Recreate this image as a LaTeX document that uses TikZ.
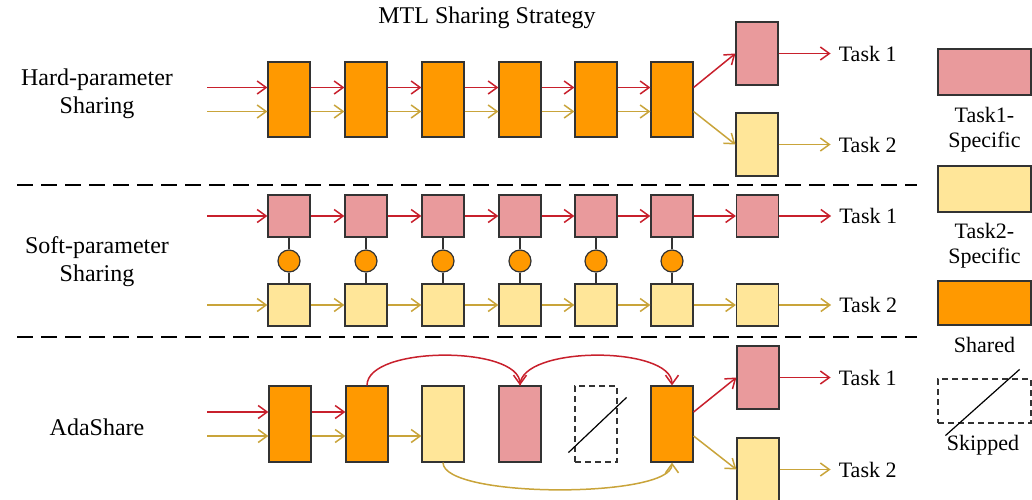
\documentclass[tikz,border=0pt]{standalone}
\usepackage{fontspec}
\setmainfont{Liberation Serif}
\usepackage{tikz}
\usetikzlibrary{positioning,arrows.meta}
\definecolor{sharedorange}{HTML}{FF9900}
\definecolor{taskpink}{HTML}{E99A9C}
\definecolor{taskyellow}{HTML}{FFE699}
\definecolor{flowred}{HTML}{C8202C}
\definecolor{flowgold}{HTML}{C9A43A}
\definecolor{edgegray}{HTML}{333333}
\tikzset{
  block/.style={draw=edgegray, line width=1.2pt, inner sep=0pt, minimum width=42pt},
  shared/.style={block, fill=sharedorange, minimum height=76pt},
  pinkbox/.style={block, fill=taskpink},
  yellowbox/.style={block, fill=taskyellow},
  skipdash/.style={dash pattern=on 6pt off 4pt},
  skipbox/.style={block, skipdash, minimum height=76pt},
  knot/.style={circle, draw=edgegray, line width=1.2pt, fill=sharedorange, inner sep=0pt, minimum size=22pt},
  link/.style={draw=edgegray, line width=1.2pt},
  redflow/.style={draw=flowred, line width=1.5pt, -{Straight Barb[length=9pt,width=13pt]}},
  goldflow/.style={draw=flowgold, line width=1.5pt, -{Straight Barb[length=9pt,width=13pt]}},
  txt/.style={font=\fontsize{22}{25}\selectfont, align=center},
  rowname/.style={font=\fontsize{24}{28}\selectfont, align=center},
  tasktxt/.style={txt, inner sep=8pt},
  separator/.style={line width=2.5pt, dash pattern=on 16pt off 8pt}
}
\begin{document}
\begin{tikzpicture}[x=1pt,y=-1pt]
\useasboundingbox (0,0) rectangle (1032,499);
\node[font=\fontsize{24}{27}\selectfont] (title) at (487,18) {MTL Sharing Strategy};
% Row names
\node[rowname] (hardname) at (97,94) {Hard-parameter\\Sharing};
\node[rowname] (softname) at (97,262) {Soft-parameter\\Sharing};
\node[rowname] (adaname) at (97,427) {AdaShare};
% Separators
\draw[separator] (17,185) -- (917,185);
\draw[separator] (17,337) -- (917,337);

% Hard-parameter sharing
\foreach \i/\x in {1/289,2/366,3/443,4/520,5/596,6/672}
  \node[shared, minimum height=75pt] (h\i) at (\x,99.5) {};
\node[pinkbox, minimum height=63pt] (hp) at (757,53.5) {};
\node[yellowbox, minimum height=63pt] (hy) at (757,144.5) {};
\node[tasktxt, anchor=west, right=52pt of hp] (ht1) {Task 1};
\node[tasktxt, anchor=west, right=52pt of hy] (ht2) {Task 2};
\coordinate (hinr) at (207,87.5);
\coordinate (hing) at (207,111.5);
\draw[redflow] (hinr) -- ([yshift=12pt]h1.west);
\draw[goldflow] (hing) -- ([yshift=-12pt]h1.west);
\foreach \i/\j in {1/2,2/3,3/4,4/5,5/6} {
  \draw[redflow] ([yshift=12pt]h\i.east) -- ([yshift=12pt]h\j.west);
  \draw[goldflow] ([yshift=-12pt]h\i.east) -- ([yshift=-12pt]h\j.west);
}
\draw[redflow] ([yshift=12pt]h6.east) -- (hp.west);
\draw[goldflow] ([yshift=-12pt]h6.east) -- (hy.west);
\draw[redflow] (hp) -- (ht1);
\draw[goldflow] (hy) -- (ht2);

% Soft-parameter sharing
\foreach \i/\x in {1/289,2/366,3/443,4/520,5/596,6/672} {
  \node[pinkbox, minimum height=42pt] (s\i) at (\x,216) {};
  \node[yellowbox, minimum height=42pt] (g\i) at (\x,305) {};
  \node[knot] (k\i) at (\x,261) {};
  \draw[link] (s\i) -- (k\i) -- (g\i);
}
\node[pinkbox, minimum height=42pt] (s7) at (757.5,216) {};
\node[yellowbox, minimum height=42pt] (g7) at (757.5,305) {};
\node[tasktxt, anchor=west, right=52pt of s7] (st1) {Task 1};
\node[tasktxt, anchor=west, right=52pt of g7] (st2) {Task 2};
\coordinate (sinr) at (207,216);
\coordinate (sing) at (207,305);
\draw[redflow] (sinr) -- (s1);
\draw[goldflow] (sing) -- (g1);
\foreach \i/\j in {1/2,2/3,3/4,4/5,5/6,6/7} {
  \draw[redflow] (s\i) -- (s\j);
  \draw[goldflow] (g\i) -- (g\j);
}
\draw[redflow] (s7) -- (st1);
\draw[goldflow] (g7) -- (st2);

% AdaShare
\node[shared] (a1) at (290,424) {};
\node[shared] (a2) at (367,424) {};
\node[yellowbox, minimum height=76pt] (a3) at (443,424) {};
\node[pinkbox, minimum height=76pt] (a4) at (520,424) {};
\node[skipbox] (a5) at (596,424) {};
\node[shared] (a6) at (672,424) {};
\draw[line width=1.2pt] ([shift={(-6,-10)}]a5.south west) -- ([shift={(9,12)}]a5.north east);
\node[pinkbox, minimum height=63pt] (ap) at (758,377.5) {};
\node[yellowbox, minimum height=63pt] (ay) at (758,469.5) {};
\node[tasktxt, anchor=west, right=51pt of ap] (at1) {Task 1};
\node[tasktxt, anchor=west, right=51pt of ay] (at2) {Task 2};
\coordinate (ainr) at (207,412);
\coordinate (aing) at (207,436);
\draw[redflow] (ainr) -- ([yshift=12pt]a1.west);
\draw[goldflow] (aing) -- ([yshift=-12pt]a1.west);
\draw[redflow] ([yshift=12pt]a1.east) -- ([yshift=12pt]a2.west);
\draw[goldflow] ([yshift=-12pt]a1.east) -- ([yshift=-12pt]a2.west);
\draw[goldflow] ([yshift=-12pt]a2.east) -- ([yshift=-12pt]a3.west);
\draw[redflow] (a2.north) .. controls +(0,-40) and +(0,-40) .. (a4.north);
\draw[redflow] (a4.north) .. controls +(0,-40) and +(0,-40) .. (a6.north);
\draw[goldflow] (a3.south) .. controls +(0,36) and +(0,36) .. (a6.south);
\draw[redflow] ([yshift=12pt]a6.east) -- (ap.west);
\draw[goldflow] ([yshift=-12pt]a6.east) -- (ay.west);
\draw[redflow] (ap) -- (at1);
\draw[goldflow] (ay) -- (at2);

% Legend
\node[pinkbox, minimum width=93pt, minimum height=46pt] (lp) at (984.5,72) {};
\node[txt] (lpt) at (984.5,129.5) {Task1-\\Specific};
\node[yellowbox, minimum width=93pt, minimum height=46pt] (ly) at (984.5,189) {};
\node[txt] (lyt) at (984.5,245.5) {Task2-\\Specific};
\node[block, fill=sharedorange, minimum width=93pt, minimum height=44pt] (ls) at (984.5,303) {};
\node[txt] (lst) at (984.5,345) {Shared};
\node[block, skipdash, minimum width=93pt, minimum height=44pt] (lk) at (984.5,401) {};
\draw[line width=1.2pt] ([shift={(8,12)}]lk.south west) -- ([shift={(-12,-9)}]lk.north east);
\node[txt] (lkt) at (983,445) {Skipped};
\end{tikzpicture}
\end{document}
